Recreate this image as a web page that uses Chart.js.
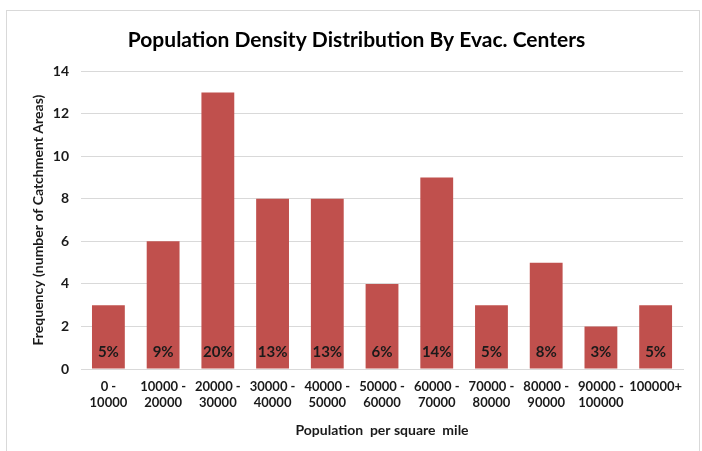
<!DOCTYPE html>
<html>
<head>
<meta charset="utf-8">
<script src="https://cdn.jsdelivr.net/npm/chart.js@4"></script>
<style>
  html, body { margin: 0; padding: 0; background: #fff; }
  #wrap { position: relative; width: 702px; height: 451px; }
  #frame { position: absolute; left: 6px; top: 10px; width: 694px; height: 450px; border: 1px solid #d9d9d9; box-sizing: border-box; }
  canvas { position: absolute; left: 0; top: 0; }
</style>
</head>
<body>
<div id="wrap">
  <div id="frame"></div>
  <canvas id="densityChart" width="702" height="451"></canvas>
</div>
<script>
// Données
const categories = [
  ['0 -', '10000'], ['10000 -', '20000'], ['20000 -', '30000'], ['30000 -', '40000'],
  ['40000 -', '50000'], ['50000 -', '60000'], ['60000 -', '70000'], ['70000 -', '80000'],
  ['80000 -', '90000'], ['90000 -', '100000'], '100000+'
];
const frequencies = [3, 6, 13, 8, 8, 4, 9, 3, 5, 2, 3];
const percentLabels = ['5%', '9%', '20%', '13%', '13%', '6%', '14%', '5%', '8%', '3%', '5%'];
const yTicks = [0, 2, 4, 6, 8, 10, 12, 14];

const font = "Lato, 'Open Sans', sans-serif";

// Plugin pour écrire les pourcentages dans le bas des barres
const percentPlugin = {
  id: 'percentPlugin',
  afterDatasetsDraw(chart) {
    const ctx = chart.ctx;
    const meta = chart.getDatasetMeta(0);
    const y0 = chart.scales.y.getPixelForValue(0);
    ctx.save();
    ctx.font = "bold 15px " + font;
    ctx.fillStyle = '#1a1a1a';
    ctx.textAlign = 'center';
    ctx.textBaseline = 'middle';
    meta.data.forEach((bar, i) => {
      ctx.fillText(percentLabels[i], bar.x, y0 - 17);
    });
    ctx.restore();
  }
};

const ctx = document.getElementById('densityChart').getContext('2d');
const densityChart = new Chart(ctx, {
  type: 'bar',
  data: {
    labels: categories,
    datasets: [{
      label: 'Frequency',
      data: frequencies,
      backgroundColor: '#C0504D',
      borderWidth: 0,
      categoryPercentage: 0.6,
      barPercentage: 1.0,
    }],
  },
  options: {
    responsive: false,
    animation: false,
    layout: { padding: { top: 24, right: 19, left: 30, bottom: 8 } },
    plugins: {
      legend: { display: false },
      tooltip: { enabled: false },
      title: {
        display: true,
        text: 'Population Density Distribution By Evac. Centers',
        color: '#000',
        font: { family: font, size: 21, weight: 'bold' },
        padding: { top: 4, bottom: 18 },
      },
    },
    scales: {
      x: {
        grid: { display: false, drawTicks: false },
        border: { color: '#d9d9d9', width: 1 },
        ticks: {
          color: '#1a1a1a',
          font: { family: font, size: 13, weight: 'bold' },
          maxRotation: 0, autoSkip: false, padding: 10,
        },
        title: {
          display: true,
          text: 'Population  per square  mile',
          color: '#1a1a1a',
          font: { family: font, size: 14, weight: 'bold' },
          padding: { top: 2 },
        },
      },
      y: {
        min: 0, max: 14,
        afterBuildTicks(axis) { axis.ticks = yTicks.map(v => ({ value: v })); },
        grid: { color: '#d9d9d9', drawTicks: false },
        border: { display: false },
        ticks: {
          color: '#1a1a1a',
          font: { family: font, size: 14, weight: 'bold' },
          padding: 12,
        },
        title: {
          display: true,
          text: 'Frequency (number of Catchment Areas)',
          color: '#1a1a1a',
          font: { family: font, size: 14, weight: 'bold' },
          padding: { top: 0, bottom: -6 },
        },
      },
    },
  },
  plugins: [percentPlugin],
});
</script>
</body>
</html>
